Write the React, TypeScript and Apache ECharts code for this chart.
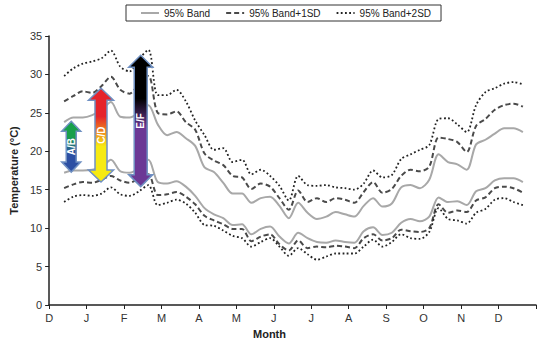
import React, { useEffect, useRef } from "react";
import * as echarts from "echarts";

// Month tick labels (value axis: 0 = December ... 12 = December)
const monthLabels = ["D", "J", "F", "M", "A", "M", "J", "J", "A", "S", "O", "N", "D"];

// Sampling positions along the x axis (in months since the first December tick)
const months = [
  0.4, 0.65, 0.9, 1.15, 1.4, 1.65, 1.9, 2.15, 2.4, 2.65,
  2.9, 3.15, 3.4, 3.65, 3.9, 4.15, 4.4, 4.65, 4.9, 5.15,
  5.4, 5.65, 5.9, 6.15, 6.4, 6.65, 6.9, 7.15, 7.4, 7.65,
  7.9, 8.15, 8.4, 8.65, 8.9, 9.15, 9.4, 9.65, 9.9, 10.15,
  10.4, 10.65, 10.9, 11.15, 11.4, 11.65, 11.9, 12.15, 12.4, 12.65,
];

// 95% Band (solid grey), upper and lower
const bandUpper = [
  23.8, 24.4, 24.4, 24.7, 25.4, 26.4, 24.5, 24.4, 25.0, 26.0,
  23.5, 22.1, 22.5, 21.7, 20.7, 17.9, 17.3, 15.9, 14.5, 14.5,
  13.3, 13.9, 14.1, 12.9, 11.3, 13.3, 12.0, 11.2, 11.5, 12.1,
  11.8, 11.5, 12.9, 13.9, 12.8, 13.2, 15.3, 15.6, 15.2, 16.3,
  19.6, 18.6, 18.3, 17.6, 20.9, 21.5, 22.3, 23.0, 23.0, 22.5,
];
const bandLower = [
  17.2, 17.5, 17.5, 17.6, 17.9, 18.9, 17.4, 17.2, 17.8, 18.9,
  16.0, 15.8, 16.1, 15.4, 14.2, 12.6, 11.8, 11.3, 10.4, 10.5,
  9.2, 9.9, 10.2, 8.9, 8.0, 9.4, 8.7, 8.2, 8.1, 8.4,
  8.2, 8.1, 9.6, 10.1, 9.1, 9.4, 10.7, 11.2, 10.9, 11.5,
  14.0, 13.4, 13.5, 13.0, 14.8, 15.2, 16.2, 16.5, 16.5, 16.0,
];

// 95% Band + 1SD (dashed), upper and lower
const sd1Upper = [
  26.5, 27.2, 27.8, 27.6, 28.5, 29.7, 28.0, 27.5, 28.8, 29.8,
  25.0, 24.8, 25.2, 23.8, 22.8, 19.7, 18.8, 18.2, 16.8, 16.6,
  15.1, 15.8, 15.4, 13.9, 12.4, 14.9, 13.4, 13.9, 13.4, 13.9,
  13.7, 13.3, 14.7, 16.0, 14.6, 15.1, 16.8, 17.6, 17.4, 18.0,
  21.8, 21.6, 21.2, 19.9, 23.3, 24.2, 25.4, 26.0, 26.2, 25.8,
];
const sd1Lower = [
  15.2, 15.7, 16.0, 15.9, 16.3, 16.8, 16.2, 15.9, 16.5, 17.0,
  14.3, 14.4, 14.7, 14.1, 13.1, 11.6, 11.0, 10.5, 9.9, 9.9,
  8.3, 8.9, 9.2, 7.9, 7.1, 8.4, 7.4, 7.6, 7.5, 7.7,
  7.6, 7.4, 8.7, 9.2, 8.4, 8.7, 9.8, 9.6, 9.5, 10.0,
  13.1, 12.0, 12.3, 12.1, 13.6, 14.0, 15.2, 15.4, 15.2, 14.6,
];

// 95% Band + 2SD (dotted), upper and lower
const sd2Upper = [
  29.8, 30.8, 31.4, 31.7, 32.1, 33.1, 31.0, 30.4, 32.0, 33.2,
  27.3, 27.3, 28.0, 26.5, 24.0, 22.1, 20.2, 20.4, 18.6, 18.9,
  17.0, 17.6, 16.8, 15.5, 13.6, 16.8, 15.6, 15.5, 15.6, 15.3,
  15.2, 15.0, 15.8, 17.5, 16.6, 16.9, 19.0, 19.6, 20.2, 20.8,
  24.2, 24.3, 23.5, 22.5, 26.0, 27.7, 28.2, 28.8, 29.0, 28.7,
];
const sd2Lower = [
  13.4, 14.1, 14.3, 14.2, 14.5, 15.3, 14.4, 14.2, 14.8, 15.6,
  13.0, 13.3, 13.7, 13.2, 12.0, 10.4, 10.3, 9.7, 9.0, 8.7,
  7.6, 8.2, 8.7, 7.6, 6.4, 7.4, 6.6, 5.9, 6.3, 6.7,
  6.7, 6.7, 7.6, 8.5, 7.6, 8.2, 9.2, 8.7, 8.6, 9.5,
  12.6, 11.2, 11.0, 10.6, 12.0, 12.5, 13.7, 13.9, 13.4, 13.0,
];

// Double-headed range arrows (annotation), in data units
const arrowLabels = ["A/B", "C/D", "E/F"];
const arrowMonth = [0.59, 1.385, 2.445];
const arrowTop = [23.9, 28.2, 32.5];
const arrowBottom = [17.3, 16.0, 15.4];

const legendNames = ["95% Band", "95% Band+1SD", "95% Band+2SD"];

const FONT = "Liberation Sans, Arial, Helvetica, sans-serif";

const arrowStyles = [
  { head: 9.5, shaft: 5, headLen: 10, stops: [["#17a04b", 0], ["#17a04b", 0.3], ["#2c4fa3", 0.62], ["#2c4fa3", 1]] },
  { head: 12.5, shaft: 6, headLen: 12, stops: [["#e5232b", 0], ["#e5232b", 0.3], ["#f6ea12", 0.62], ["#f6ea12", 1]] },
  { head: 12, shaft: 6.5, headLen: 12, stops: [["#000000", 0], ["#000000", 0.33], ["#6b3895", 0.55], ["#6b3895", 1]] },
];

export default function App() {
  const ref = useRef<HTMLDivElement>(null);

  useEffect(() => {
    if (!ref.current) return;
    const chart = echarts.init(ref.current, null, { renderer: "svg" });

    const pairs = (vals: number[]) => months.map((m, i) => [m, vals[i]]);

    const solid = { color: "#a8a8a8", width: 2, type: "solid" as const };
    const dashed = { color: "#4a4a4a", width: 2, type: [5, 3] as any };
    const dotted = { color: "#222222", width: 1.8, type: [1.8, 2.4] as any };

    const lineSeries = (name: string, vals: number[], ls: any) => ({
      type: "line",
      name,
      data: pairs(vals),
      symbol: "none",
      smooth: 0.3,
      lineStyle: ls,
      itemStyle: { color: ls.color },
      z: 2,
    });

    chart.setOption({
      animation: false,
      grid: { left: 47, right: 2, top: 36, bottom: 38, containLabel: false },
      legend: {
        data: legendNames,
        left: 126,
        top: 5,
        borderColor: "#333",
        borderWidth: 1,
        borderRadius: 0,
        padding: [3, 10, 3, 14],
        itemWidth: 18,
        itemHeight: 10,
        itemGap: 15,
        itemStyle: { opacity: 0 },
        textStyle: { fontSize: 10, color: "#222", fontFamily: FONT },
      },
      xAxis: {
        type: "value",
        min: 0,
        max: 13,
        interval: 1,
        axisLine: { show: true, lineStyle: { color: "#222", width: 1.5 } },
        axisTick: { show: true, length: 4, lineStyle: { color: "#222" } },
        splitLine: { show: false },
        axisLabel: {
          fontSize: 11,
          color: "#333",
          fontFamily: FONT,
          margin: 7,
          formatter: (v: number) => (monthLabels[v] !== undefined ? monthLabels[v] : ""),
        },
      },
      yAxis: {
        type: "value",
        min: 0,
        max: 35,
        interval: 5,
        name: "Temperature (°C)",
        nameLocation: "middle",
        nameGap: 26,
        nameTextStyle: { fontSize: 11, fontWeight: "bold", color: "#222", fontFamily: FONT },
        axisLine: { show: true, lineStyle: { color: "#222", width: 1.5 } },
        axisTick: { show: true, length: 4, lineStyle: { color: "#222" } },
        splitLine: { show: false },
        axisLabel: { fontSize: 11, color: "#333", fontFamily: FONT, margin: 7 },
      },
      graphic: [
        {
          type: "text",
          left: 253,
          top: 328,
          style: { text: "Month", font: `bold 11px ${FONT}`, fill: "#222" },
        },
      ],
      series: [
        lineSeries(legendNames[0], bandUpper, solid),
        lineSeries(legendNames[0], bandLower, solid),
        lineSeries(legendNames[1], sd1Upper, dashed),
        lineSeries(legendNames[1], sd1Lower, dashed),
        lineSeries(legendNames[2], sd2Upper, dotted),
        lineSeries(legendNames[2], sd2Lower, dotted),
        {
          type: "custom",
          name: "arrows",
          coordinateSystem: "cartesian2d",
          data: arrowLabels.map((_, i) => [arrowMonth[i], arrowTop[i], arrowBottom[i], i]),
          encode: { x: 0, y: [1, 2] },
          z: 10,
          silent: true,
          renderItem: (params: any, api: any) => {
            const i = api.value(3);
            const top = api.coord([api.value(0), api.value(1)]);
            const bot = api.coord([api.value(0), api.value(2)]);
            const st = arrowStyles[i];
            const cx = top[0];
            const yT = top[1];
            const yB = bot[1];
            const hw = st.head;
            const sw = st.shaft;
            const hh = st.headLen;
            const pts = [
              [cx, yT],
              [cx + hw, yT + hh],
              [cx + sw, yT + hh],
              [cx + sw, yB - hh],
              [cx + hw, yB - hh],
              [cx, yB],
              [cx - hw, yB - hh],
              [cx - sw, yB - hh],
              [cx - sw, yT + hh],
              [cx - hw, yT + hh],
            ];
            const grad = new echarts.graphic.LinearGradient(
              0, 0, 0, 1,
              st.stops.map((s: any) => ({ offset: s[1], color: s[0] }))
            );
            return {
              type: "group",
              children: [
                {
                  type: "polygon",
                  shape: { points: pts },
                  style: { fill: grad, stroke: "#6f90c2", lineWidth: 1.5 },
                },
                {
                  type: "text",
                  x: cx,
                  y: (yT + yB) / 2,
                  rotation: Math.PI / 2,
                  style: {
                    text: arrowLabels[i],
                    fill: "#ffffff",
                    font: `bold 10px ${FONT}`,
                    align: "center",
                    verticalAlign: "middle",
                  },
                },
              ],
            };
          },
        },
      ],
    });

    return () => chart.dispose();
  }, []);

  return (
    <div
      ref={ref}
      style={{ position: "fixed", left: 0, top: 0, width: 539, height: 343, background: "#fff" }}
    />
  );
}
